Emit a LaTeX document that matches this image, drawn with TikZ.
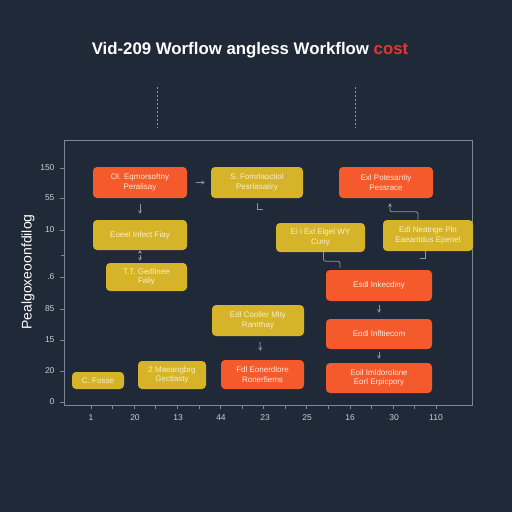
\documentclass[tikz,border=0pt]{standalone}
\usepackage{fontspec}
\setmainfont{Liberation Sans}
\usepackage{tikz}
\usetikzlibrary{arrows.meta}

\definecolor{bgnavy}{HTML}{1F2937}
\definecolor{boxorange}{HTML}{F45A2B}
\definecolor{boxyellow}{HTML}{D6B42A}
\definecolor{orangetext}{HTML}{FDEBDD}
\definecolor{yellowtext}{HTML}{F8EEC8}
\definecolor{framegray}{HTML}{7D8794}
\definecolor{linkgray}{HTML}{8C96A3}
\definecolor{titlered}{HTML}{E8352B}
\definecolor{ticktext}{HTML}{C9CED6}

\begin{document}
\begin{tikzpicture}[x=1pt,y=-1pt,
  box node/.style={rounded corners=4pt,inner sep=1pt,align=center,
    font=\fontsize{8}{9.5}\selectfont},
  orange node/.style={box node,fill=boxorange,text=orangetext},
  yellow node/.style={box node,fill=boxyellow,text=yellowtext},
  tick label/.style={text=ticktext,font=\fontsize{8.5}{10}\selectfont},
  link/.style={-{Stealth[length=3.5pt,width=4pt]},line width=0.8pt,draw=linkgray}]

  \fill[bgnavy] (0,0) rectangle (512,512);
  \useasboundingbox (0,0) rectangle (512,512);

  \node[text=white] (title) at (250,50)
    {\fontsize{16.8}{20}\selectfont\bfseries Vid-209 Worflow angless Workflow \textcolor{titlered}{cost}};

  \draw[linkgray,dash pattern=on 2pt off 2pt] (157,87) -- (157,128);
  \draw[linkgray,dash pattern=on 2pt off 2pt] (355,87) -- (355,128);

  % axes
  \draw[framegray,line width=0.8pt] (64,140) rectangle (472,405);
  \foreach \y/\lab in {168/150,198/55,230/10,277/.6,309/85,340/15,371/20,402/0}{
    \draw[framegray] (60,\y) -- (64,\y);
    \node[tick label,anchor=east] (ylab\y) at (58,\y) {\lab};
  }
  \draw[framegray] (61,255) -- (64,255);
  \foreach \i in {0,...,16}
    \draw[framegray] ({91+21.5625*\i},405) -- ++(0,4);
  \foreach \x/\lab in {91/1,135/20,178/13,221/44,265/23,307/25,350/16,394/30,436/110}
    \node[tick label] (xlab\x) at (\x,418) {\lab};

  \node[rotate=90,text=white,font=\fontsize{14}{16}\selectfont] (ylabel) at (28,272) {Pealgoxeoonfdilog};

  % boxes
  \node[orange node,minimum width=94pt,minimum height=31pt] (1) at (140,182.5) {Ol. Eqmorsoftny\\Peralisay};
  \node[yellow node,minimum width=92pt,minimum height=31pt] (2) at (257,182.5) {S. Fomrlaoctiol\\Pesrlasatiry};
  \node[orange node,minimum width=94pt,minimum height=31pt] (3) at (386,182.5) {Exl Potesantiy\\Pessrace};
  \node[yellow node,minimum width=94pt,minimum height=30pt] (4) at (140,235) {Eoeel Infect Fiay};
  \node[yellow node,minimum width=81pt,minimum height=28pt] (5) at (146.5,277) {T.T. Gedlinee\\Faliy};
  \node[yellow node,minimum width=89pt,minimum height=29pt] (6) at (320.5,237.5) {Ei l Exl Eigel WY\\Cuny};
  \node[yellow node,minimum width=90pt,minimum height=31pt] (7) at (428,235.5) {Edl Neatnge Pln\\Eaeantdus Epenel};
  \node[orange node,minimum width=106pt,minimum height=31pt] (8) at (379,285.5) {Esdl Inkecdiny};
  \node[yellow node,minimum width=92pt,minimum height=31pt] (9) at (258,320.5) {Edl Cooller Mlty\\Ramthay};
  \node[orange node,minimum width=106pt,minimum height=30pt] (10) at (379,334) {Eodl Infltiecom};
  \node[orange node,minimum width=106pt,minimum height=30pt] (11) at (379,378) {Eoil Imldorolone\\Eorl Erpicpory};
  \node[yellow node,minimum width=52pt,minimum height=17pt] (12) at (98,380.5) {C. Fosse};
  \node[yellow node,minimum width=68pt,minimum height=28pt] (13) at (172,375) {2 Maeangbrg\\Gectlasty};
  \node[orange node,minimum width=83pt,minimum height=29pt] (14) at (262.5,374.5) {Fdl Eonerdlore\\Ronerfiems};

  \coordinate (2stub) at (263,209);
  \coordinate (7stub) at (420,258);

  \path[link]
    (1) edge[shorten <=9pt,shorten >=6pt] (2)
    (1) edge[shorten <=6pt,shorten >=6pt] (4)
    (4.south) edge[shorten <=5pt,shorten >=2pt] ([xshift=-6.5pt]5.north)
    (8) edge[shorten <=4pt,shorten >=6pt] (10)
    (10) edge[shorten <=3pt,shorten >=4pt] (11)
    (9) edge[shorten <=6pt,shorten >=9pt] (14);

  \draw[link,-,shorten <=5pt] (2.south) |- (2stub);
  \draw[link,rounded corners=2pt] ([xshift=-10pt]7.north) -- ++(0,-8) -| ([xshift=4pt,yshift=-5pt]3.south);
  \draw[link,-,rounded corners=2pt] ([xshift=3pt]6.south) -- ++(0,9) -| ([xshift=-39pt,yshift=2pt]8.north);
  \draw[link,-] ([xshift=-3pt]7.south) |- (7stub);
\end{tikzpicture}
\end{document}
